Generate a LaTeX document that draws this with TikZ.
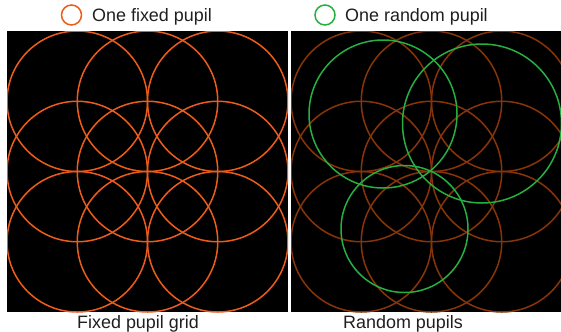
\documentclass[tikz,border=0pt]{standalone}
\usepackage{fontspec}
\setmainfont{Liberation Sans}
\definecolor{pupilorange}{RGB}{238,92,26}
\definecolor{pupildark}{RGB}{136,52,8}
\definecolor{pupilgreen}{RGB}{38,176,66}
\begin{document}
\begin{tikzpicture}[x=1bp,y=-1bp,
  ring/.style={line width=1.5bp},
  label/.style={font=\fontsize{18}{21}\selectfont, text=black!88, inner sep=0pt, anchor=base}]
\useasboundingbox (0,0) rectangle (561,331);
\fill[white] (0,0) rectangle (561,331);
% left panel
\fill[black] (7,31) rectangle (288,312);
\begin{scope}
\clip (7,31) rectangle (288,312);
\foreach \i in {1,2,3}{\foreach \j in {1,2,3}{
  \draw[ring,pupilorange] (7+70.25*\i,31+70.25*\j) circle (70.25);
}}
\end{scope}
% right panel
\fill[black] (291,31) rectangle (561,312);
\begin{scope}
\clip (291,31) rectangle (561,312);
\foreach \i in {1,2,3}{\foreach \j in {1,2,3}{
  \draw[ring,pupildark] (291+70.25*\i,31+70.25*\j) circle (70.25);
}}
\draw[ring,pupilgreen] (383,114) circle (74);
\draw[ring,pupilgreen] (482,123.5) circle (79.5);
\draw[ring,pupilgreen] (404.5,229) circle (63.5);
\end{scope}
% legend
\node[draw=pupilorange, line width=1.5bp, circle, minimum size=20bp, inner sep=0pt] (lego) at (71.5,15) {};
\node[label, anchor=base west] (legotext) at (92,21.5) {One fixed pupil};
\node[draw=pupilgreen, line width=1.5bp, circle, minimum size=20bp, inner sep=0pt] (legg) at (325,15) {};
\node[label, anchor=base west] (leggtext) at (345,21.5) {One random pupil};
% captions
\node[label] (capl) at (138,328) {Fixed pupil grid};
\node[label] (capr) at (403,328) {Random pupils};
\end{tikzpicture}
\end{document}
